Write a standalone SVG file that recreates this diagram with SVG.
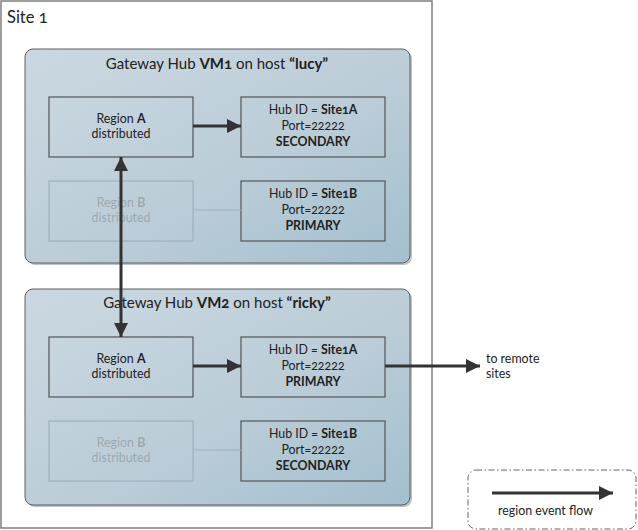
<svg xmlns="http://www.w3.org/2000/svg" width="638" height="530" viewBox="0 0 638 530">
<style>
  text { font-family: Lato, "Open Sans", "Liberation Sans", sans-serif; fill: #222; font-variant-numeric: oldstyle-nums; }
  .site { font-size: 16.5px; }
  .title { font-size: 15px; text-anchor: middle; }
  .t { font-size: 12.4px; text-anchor: middle; }
  .faded { fill: #9ea8b0; }
  .lbl { font-size: 12.4px; }
  .b { font-weight: bold; }
  .panel { fill: url(#pg); stroke: #5a5f63; stroke-width: 1; }
  .shadow { fill: #8a8f93; opacity: 0.55; }
  .box { fill: none; stroke: #5a5f63; stroke-width: 1.3; }
  .fbox { fill: none; stroke: #a3b3be; stroke-width: 1.3; }
  .flow { stroke: #333; stroke-width: 3; fill: none; }
  .thin { stroke: #9fb2bf; stroke-width: 1.2; fill: none; }
</style>
<defs>
  <linearGradient id="pg" x1="0" y1="0" x2="1" y2="1">
    <stop offset="0" stop-color="#cbd8e1"/>
    <stop offset="0.55" stop-color="#bccdd8"/>
    <stop offset="1" stop-color="#a3bfcf"/>
  </linearGradient>
  <marker id="ah" markerUnits="userSpaceOnUse" markerWidth="14" markerHeight="14" refX="14" refY="7" orient="auto-start-reverse" viewBox="0 0 14 14">
    <path d="M0,0 L14,7 L0,14 z" fill="#333"/>
  </marker>
</defs>

<g id="site1">
  <rect x="1" y="1" width="431" height="527" fill="#fff" stroke="#7f7f7f" stroke-width="1.5"/>
  <text class="site" x="7" y="23">Site 1</text>
</g>

<g id="vm1">
  <rect class="shadow" x="27" y="51" width="385" height="214" rx="8"/>
  <rect class="panel" x="25" y="49" width="385" height="214" rx="8"/>
  <text class="title" x="217" y="69">Gateway Hub <tspan class="b">VM1</tspan> on host <tspan class="b">“lucy”</tspan></text>
</g>
<g id="vm1-regionA">
  <rect class="box" x="49" y="97" width="144" height="60"/>
  <text class="t" x="121" y="123">Region <tspan class="b">A</tspan></text>
  <text class="t" x="121" y="138">distributed</text>
</g>
<g id="vm1-hubA">
  <rect class="box" x="241" y="97" width="144" height="60"/>
  <text class="t" x="313" y="114">Hub ID = <tspan class="b">Site1A</tspan></text>
  <text class="t" x="313" y="130">Port=22222</text>
  <text class="t b" x="313" y="146">SECONDARY</text>
</g>
<g id="vm1-regionB">
  <rect class="fbox" x="49" y="181" width="144" height="60"/>
  <text class="t faded" x="121" y="207">Region <tspan class="b">B</tspan></text>
  <text class="t faded" x="121" y="222">distributed</text>
</g>
<g id="vm1-hubB">
  <rect class="box" x="241" y="181" width="144" height="60"/>
  <text class="t" x="313" y="198">Hub ID = <tspan class="b">Site1B</tspan></text>
  <text class="t" x="313" y="214">Port=22222</text>
  <text class="t b" x="313" y="230">PRIMARY</text>
</g>

<g id="vm2">
  <rect class="shadow" x="27" y="291" width="385" height="216" rx="8"/>
  <rect class="panel" x="25" y="289" width="385" height="216" rx="8"/>
  <text class="title" x="217" y="308">Gateway Hub <tspan class="b">VM2</tspan> on host <tspan class="b">“ricky”</tspan></text>
</g>
<g id="vm2-regionA">
  <rect class="box" x="49" y="337" width="144" height="60"/>
  <text class="t" x="121" y="363">Region <tspan class="b">A</tspan></text>
  <text class="t" x="121" y="378">distributed</text>
</g>
<g id="vm2-hubA">
  <rect class="box" x="241" y="337" width="144" height="60"/>
  <text class="t" x="313" y="354">Hub ID = <tspan class="b">Site1A</tspan></text>
  <text class="t" x="313" y="370">Port=22222</text>
  <text class="t b" x="313" y="386">PRIMARY</text>
</g>
<g id="vm2-regionB">
  <rect class="fbox" x="49" y="421" width="144" height="60"/>
  <text class="t faded" x="121" y="447">Region <tspan class="b">B</tspan></text>
  <text class="t faded" x="121" y="462">distributed</text>
</g>
<g id="vm2-hubB">
  <rect class="box" x="241" y="421" width="144" height="60"/>
  <text class="t" x="313" y="438">Hub ID = <tspan class="b">Site1B</tspan></text>
  <text class="t" x="313" y="454">Port=22222</text>
  <text class="t b" x="313" y="470">SECONDARY</text>
</g>

<g id="remote">
  <text class="lbl" x="486" y="363">to remote</text>
  <text class="lbl" x="486" y="378">sites</text>
</g>

<g id="legend">
  <rect x="468" y="470" width="168" height="59" rx="8" fill="none" stroke="#666" stroke-width="1" stroke-dasharray="6 2.5 1.5 2.5"/>
  <line class="flow" x1="492" y1="493" x2="613" y2="493" marker-end="url(#ah)"/>
  <text class="lbl" x="498" y="515">region event flow</text>
</g>

<g id="connectors">
  <line class="thin" x1="193" y1="210" x2="241" y2="210"/>
  <line class="thin" x1="193" y1="450" x2="241" y2="450"/>
  <line class="flow" x1="193" y1="126" x2="241" y2="126" marker-end="url(#ah)"/>
  <line class="flow" x1="121" y1="157" x2="121" y2="337" marker-start="url(#ah)" marker-end="url(#ah)"/>
  <line class="flow" x1="193" y1="366" x2="241" y2="366" marker-end="url(#ah)"/>
  <line class="flow" x1="385" y1="366" x2="480" y2="366" marker-end="url(#ah)"/>
</g>
</svg>
